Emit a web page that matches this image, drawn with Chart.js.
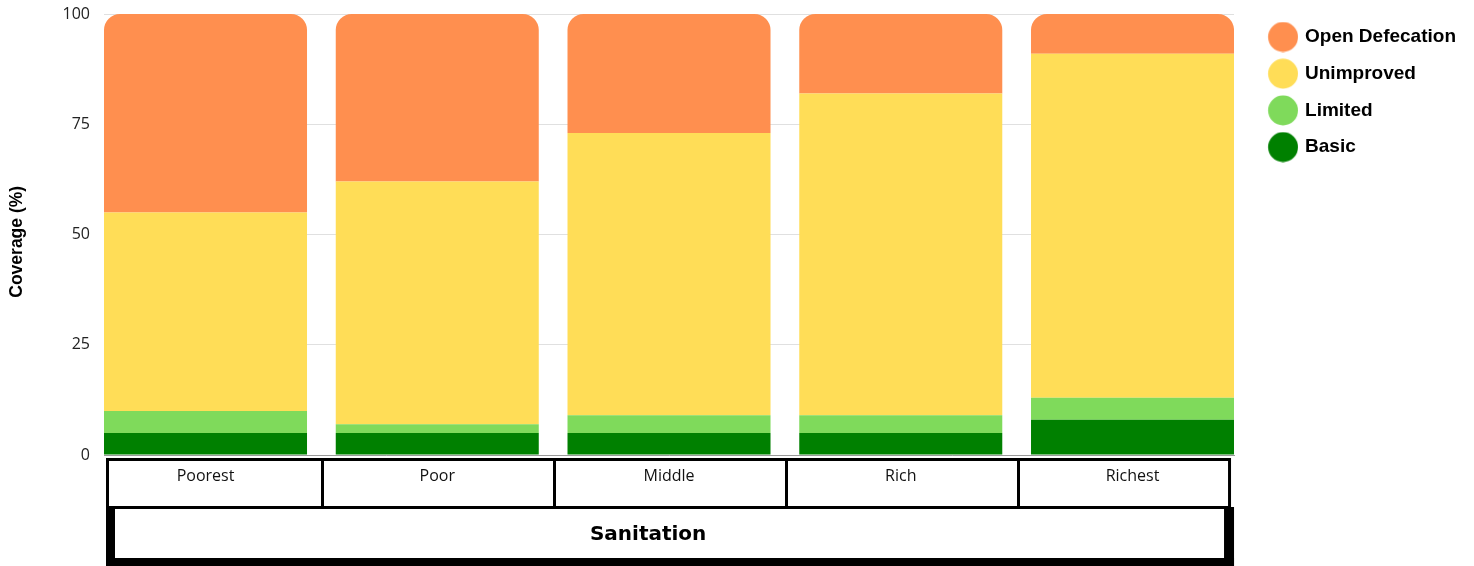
<!DOCTYPE html>
<html>
<head>
<meta charset="utf-8">
<script src="https://cdn.jsdelivr.net/npm/chart.js@4/dist/chart.umd.min.js"></script>
<style>
  html, body { margin: 0; padding: 0; background: #ffffff; }
  #wrap { position: relative; width: 1474px; height: 566px; }
</style>
</head>
<body>
<div id="wrap"><canvas id="c" width="1474" height="566"></canvas></div>
<script>
// ---- data ----
const categories = ['Poorest', 'Poor', 'Middle', 'Rich', 'Richest'];
const basic      = [5, 5, 5, 5, 8];
const limited    = [5, 2, 4, 4, 5];
const unimproved = [45, 55, 64, 73, 78];
const openDef    = [45, 38, 27, 18, 9];
const yTicks     = [0, 25, 50, 75, 100];
const seriesNames = ['Basic', 'Limited', 'Unimproved', 'Open Defecation'];
const xTitle = 'Sanitation';
const yTitle = 'Coverage (%)';

// ---- styles ----
const colors = ['#008000', '#7FDA5B', '#FFDD57', '#FF8F4F'];

function circleImg(color) {
  const c = document.createElement('canvas');
  c.width = 49; c.height = 31;
  const g = c.getContext('2d');
  g.fillStyle = color;
  g.beginPath();
  g.arc(24.5 + 9.4, 15.5, 15, 0, Math.PI * 2);
  g.fill();
  return c;
}
const legendImgs = colors.map(circleImg);

const toPts = arr => arr.map((v, i) => ({ x: i, y: v }));
const seriesData = [basic, limited, unimproved, openDef];

const datasets = seriesData.map((arr, k) => ({
  label: seriesNames[k],
  data: toPts(arr),
  backgroundColor: colors[k],
  borderWidth: 0,
  borderRadius: k === 3 ? 16 : 0,
  barPercentage: 0.876,
  categoryPercentage: 1
}));

const boxesPlugin = {
  id: 'boxes',
  afterDraw(chart) {
    const ctx = chart.ctx;
    const xs = chart.scales.x;
    const px = categories.map((_, i) => xs.getPixelForValue(i));
    const left = xs.left + 2, right = xs.right - 3;
    ctx.save();
    ctx.strokeStyle = '#000';
    ctx.fillStyle = '#000';
    ctx.lineWidth = 3;
    ctx.strokeRect(left + 1.5, 459.5, right - left - 3, 48);
    ctx.beginPath();
    for (let i = 0; i < px.length - 1; i++) {
      const m = Math.round((px[i] + px[i + 1]) / 2) + 1.5;
      ctx.moveTo(m, 459);
      ctx.lineTo(m, 507);
    }
    ctx.stroke();
    // second row (thick frame)
    ctx.fillRect(left, 507, 9, 59);
    ctx.fillRect(xs.right - 10, 507, 10, 59);
    ctx.fillRect(left, 558, xs.right - left, 8);
    ctx.restore();
  }
};

new Chart(document.getElementById('c'), {
  type: 'bar',
  data: { datasets },
  plugins: [boxesPlugin],
  options: {
    responsive: false,
    animation: false,
    layout: { padding: { top: 9.8, right: 8, bottom: 0, left: 0 } },
    plugins: {
      tooltip: { enabled: false },
      legend: {
        position: 'right',
        align: 'start',
        reverse: true,
        labels: {
          usePointStyle: true,
          pointStyleWidth: 43.8,
          padding: 17.7,
          color: '#000',
          font: { family: '"Liberation Sans", Arial, sans-serif', size: 19, weight: 'bold' },
          generateLabels(chart) {
            const items = Chart.defaults.plugins.legend.labels.generateLabels(chart);
            items.forEach(it => { it.pointStyle = legendImgs[it.datasetIndex]; });
            return items;
          }
        }
      }
    },
    scales: {
      x: {
        type: 'linear',
        stacked: true,
        min: -0.438,
        max: 4.438,
        offset: false,
        afterFit(s) { s.height = 111; },
        afterBuildTicks(s) { s.ticks = categories.map((_, i) => ({ value: i })); },
        grid: { display: false, drawTicks: false },
        border: { display: true, color: '#999', width: 1 },
        ticks: {
          autoSkip: false,
          maxRotation: 0,
          padding: 12,
          color: '#111',
          font: { family: '"Open Sans", sans-serif', size: 16 },
          callback: v => categories[v]
        },
        title: {
          display: true,
          text: xTitle + '      ',
          color: '#000',
          font: { family: '"DejaVu Sans", sans-serif', size: 20, weight: 'bold' },
          padding: { top: 0, bottom: 19.5 }
        }
      },
      y: {
        stacked: true,
        min: 0,
        max: 100,
        afterFit(s) { s.width = 104; },
        afterBuildTicks(s) { s.ticks = yTicks.map(v => ({ value: v })); },
        grid: { color: '#e0e0e0', tickColor: 'rgba(0,0,0,0)', tickLength: 9.6, drawTicks: true },
        border: { display: false },
        ticks: {
          padding: 4.4,
          color: '#222',
          font: { family: '"Open Sans", sans-serif', size: 16 }
        },
        title: {
          display: true,
          text: yTitle + '   ',
          color: '#000',
          font: { family: '"Liberation Sans", Arial, sans-serif', size: 17.5, weight: 'bold' },
          padding: { top: 6.5, bottom: 0 }
        }
      }
    }
  }
});
</script>
</body>
</html>
